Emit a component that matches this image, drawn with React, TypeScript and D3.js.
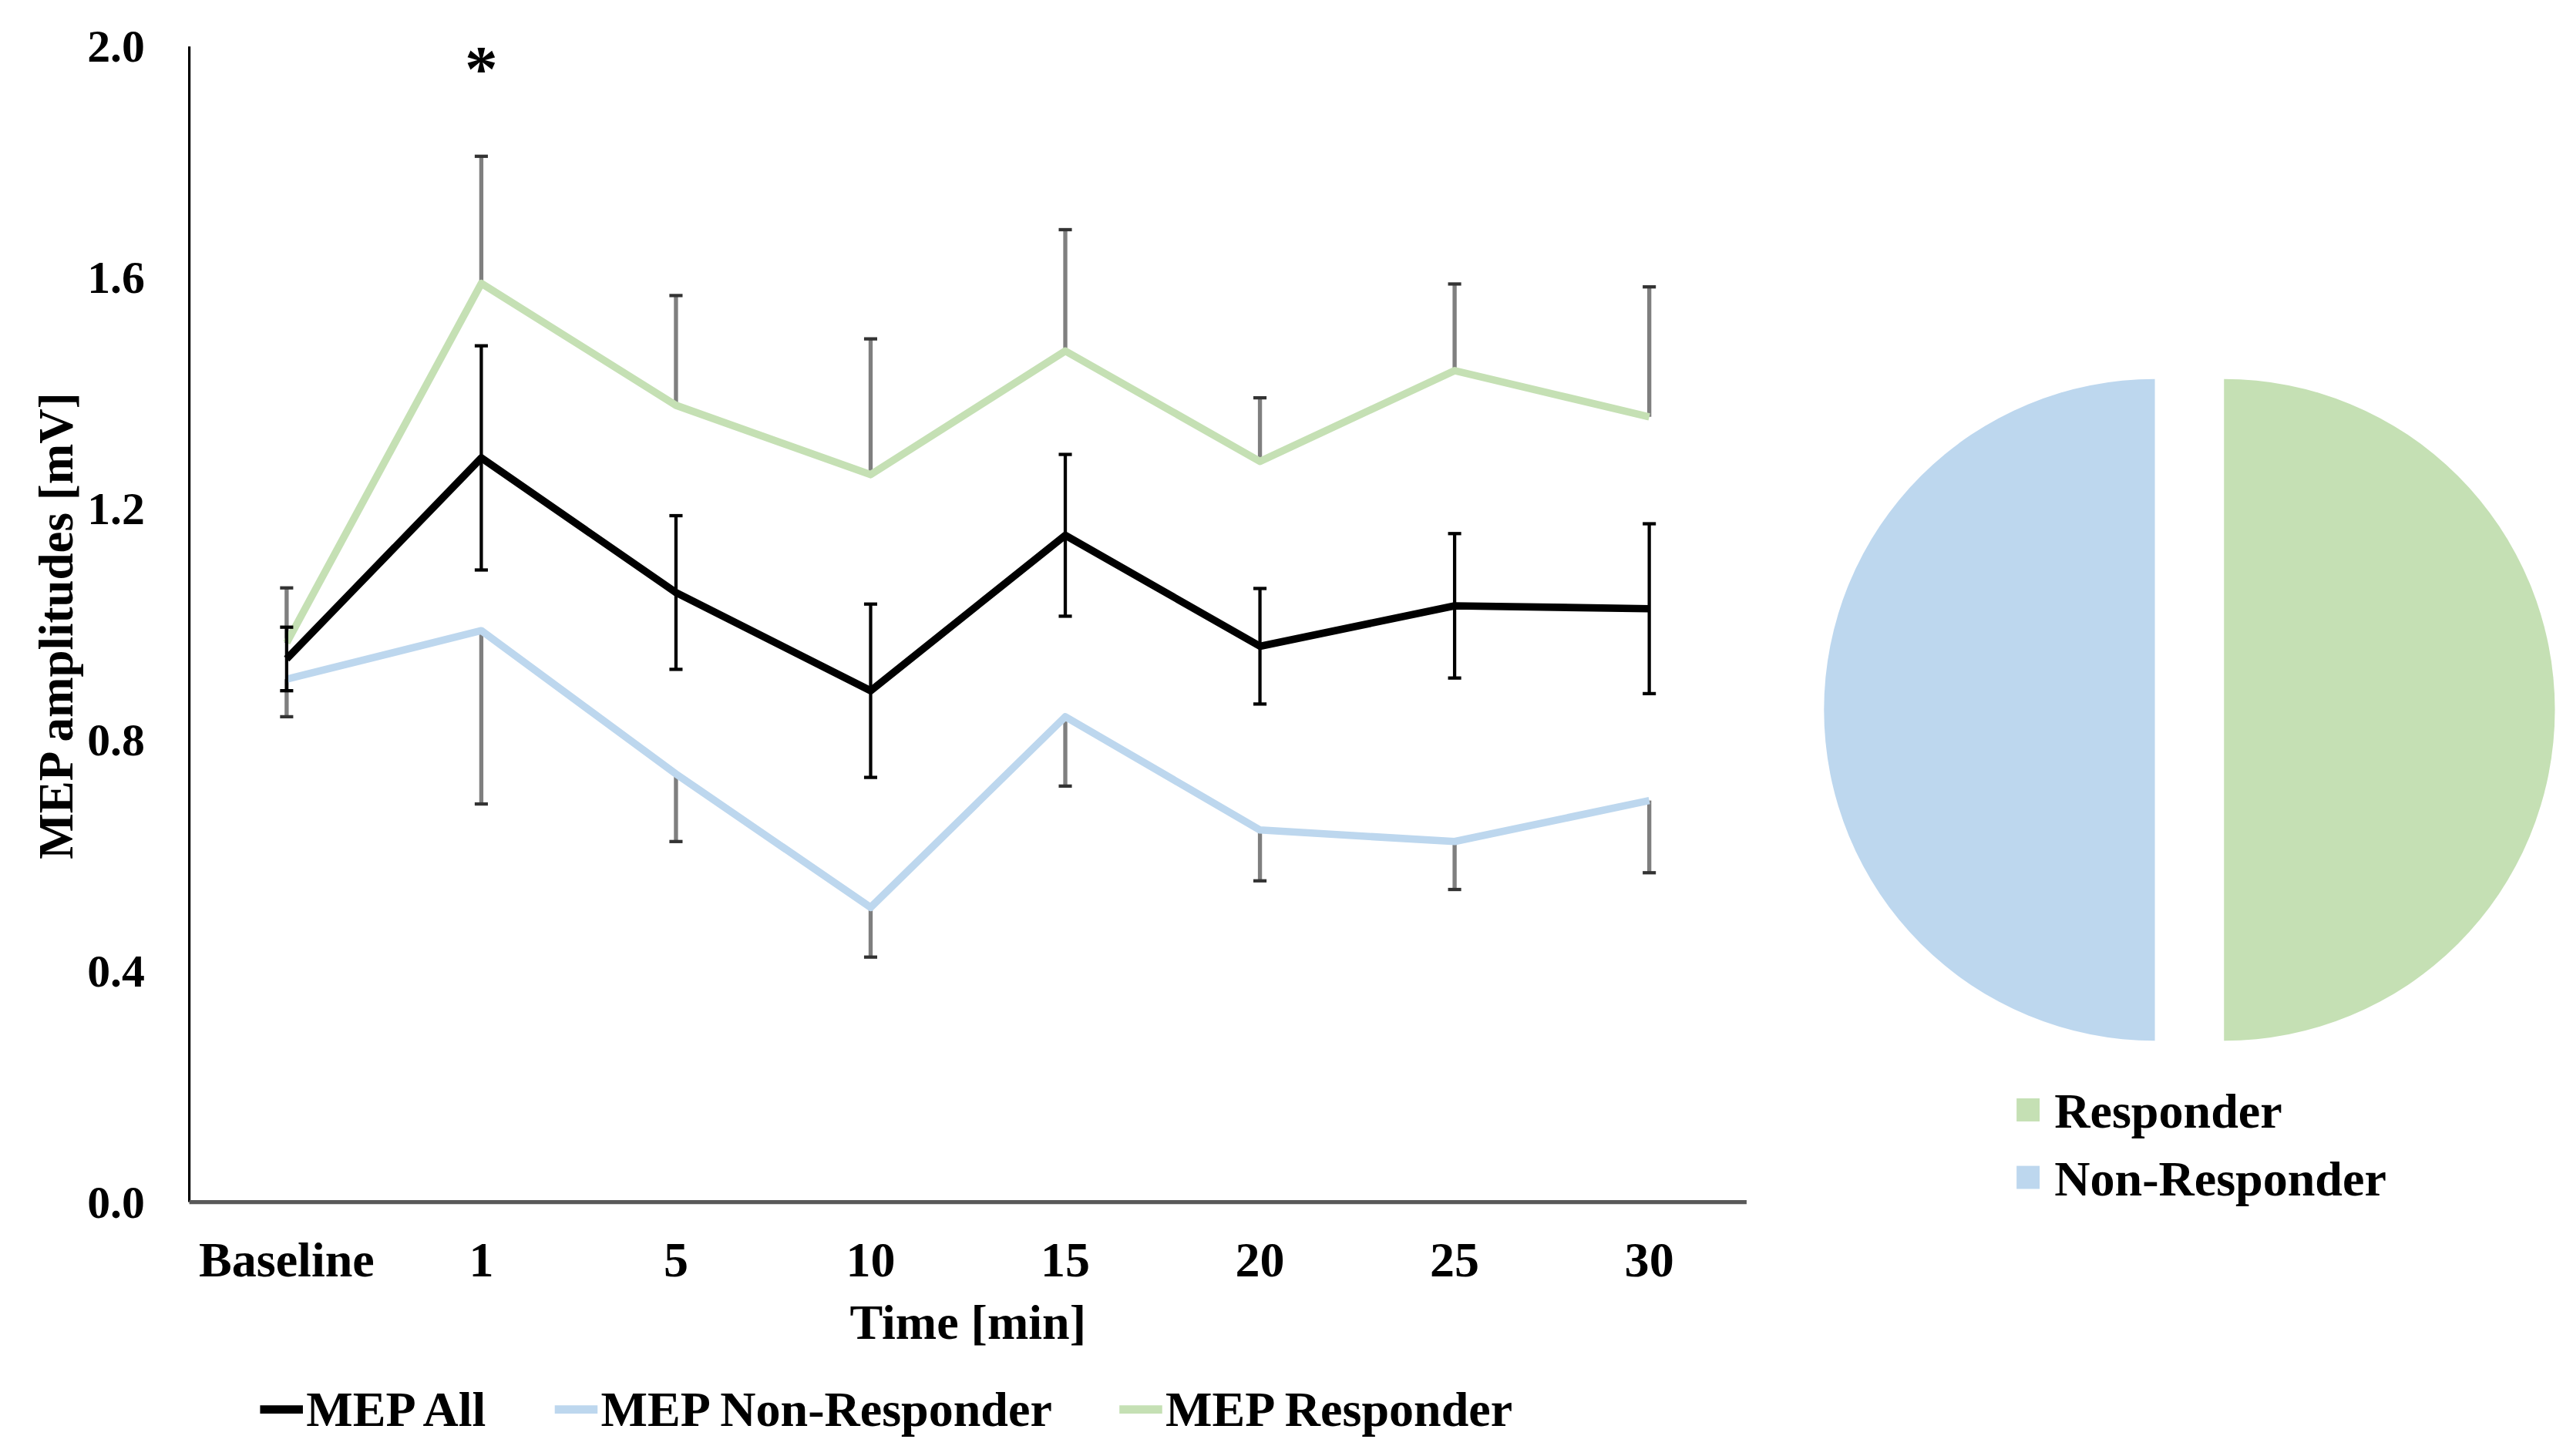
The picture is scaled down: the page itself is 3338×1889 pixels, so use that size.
import React from 'react';
import * as d3 from 'd3';

const categories = ['Baseline', '1', '5', '10', '15', '20', '25', '30'];
const allMean = [0.94, 1.288, 1.055, 0.885, 1.154, 0.962, 1.032, 1.027];
const allErr = [0.055, 0.194, 0.133, 0.15, 0.14, 0.1, 0.125, 0.147];
const responderMean = [0.968, 1.59, 1.379, 1.259, 1.473, 1.282, 1.439, 1.359];
const responderErr = [0.095, 0.22, 0.19, 0.235, 0.21, 0.11, 0.15, 0.225];
const nonResponderMean = [0.905, 0.989, 0.741, 0.51, 0.84, 0.644, 0.624, 0.695];
const nonResponderErr = [0.065, 0.3, 0.117, 0.086, 0.12, 0.088, 0.083, 0.125];
const yTicks = [0, 0.4, 0.8, 1.2, 1.6, 2.0];
const pieLabels = ['Responder', 'Non-Responder'];
const pieValues = [50, 50];

const GREEN = '#C5E0B4';
const BLUE = '#BDD7EE';
const GRAY = '#7f7f7f';
const FONT = '"Liberation Serif", "Times New Roman", serif';

const W = 1563;
const H = 884;

const App: React.FC = () => {
    const x = d3.scaleBand().domain(categories).range([115, 1061]).paddingInner(0).paddingOuter(0);
    const cx = (c: string) => (x(c) as number) + x.bandwidth() / 2;
    const y = d3.scaleLinear().domain([0, 2]).range([730, 28]);

    const line = d3.line<number>()
        .x((_, i) => cx(categories[i]))
        .y(d => y(d));

    const pie = d3.pie<number>().sort(null).startAngle(0).endAngle(2 * Math.PI);
    const arcs = pie(pieValues);
    const arc = d3.arc<d3.PieArcDatum<number>>().innerRadius(0).outerRadius(201);
    const pieCx = 1330;
    const pieCy = 431;
    const explode = 21;
    const pieColors = [GREEN, BLUE];

    const cap = 4;

    return (
        <svg
            width={3338}
            height={1889}
            viewBox={`0 0 ${W} ${H}`}
            style={{ position: 'absolute', left: 0, top: 0, background: '#fff' }}
            fontFamily={FONT}
            fontWeight="bold"
        >
            <rect x={0} y={0} width={W} height={H} fill="#fff" />

            {/* axes */}
            <line x1={115} x2={115} y1={y(2)} y2={y(0)} stroke="#000" strokeWidth={1.5} />
            <line x1={115} x2={1061} y1={y(0)} y2={y(0)} stroke="#595959" strokeWidth={2.5} />

            {yTicks.map(t => (
                <text key={t} x={88} y={y(t)} textAnchor="end" dominantBaseline="central" fontSize={28}>
                    {t.toFixed(1)}
                </text>
            ))}
            {categories.map(c => (
                <text key={c} x={cx(c)} y={775} textAnchor="middle" fontSize={30}>{c}</text>
            ))}
            <text x={588} y={813} textAnchor="middle" fontSize={30}>Time [min]</text>
            <text
                transform={`translate(44,380) rotate(-90)`}
                textAnchor="middle"
                fontSize={29.5}
            >
                MEP amplitudes [mV]
            </text>

            {/* responder errors (up only) */}
            {responderMean.map((m, i) => {
                const px = cx(categories[i]);
                return (
                    <g key={`re${i}`} stroke={GRAY} strokeWidth={2.5}>
                        <line x1={px} x2={px} y1={y(m)} y2={y(m + responderErr[i])} />
                        <line x1={px - cap} x2={px + cap} y1={y(m + responderErr[i])} y2={y(m + responderErr[i])} strokeWidth={2} stroke="#333" />
                    </g>
                );
            })}
            {/* non-responder errors (down only) */}
            {nonResponderMean.map((m, i) => {
                const px = cx(categories[i]);
                return (
                    <g key={`ne${i}`} stroke={GRAY} strokeWidth={2.5}>
                        <line x1={px} x2={px} y1={y(m)} y2={y(m - nonResponderErr[i])} />
                        <line x1={px - cap} x2={px + cap} y1={y(m - nonResponderErr[i])} y2={y(m - nonResponderErr[i])} strokeWidth={2} stroke="#333" />
                    </g>
                );
            })}

            <path d={line(responderMean) as string} fill="none" stroke={GREEN} strokeWidth={4.5} strokeLinejoin="round" />
            <path d={line(nonResponderMean) as string} fill="none" stroke={BLUE} strokeWidth={4.5} strokeLinejoin="round" />

            {/* all errors (both directions) */}
            {allMean.map((m, i) => {
                const px = cx(categories[i]);
                const top = y(m + allErr[i]);
                const bot = y(m - allErr[i]);
                return (
                    <g key={`ae${i}`} stroke="#000" strokeWidth={2}>
                        <line x1={px} x2={px} y1={top} y2={bot} />
                        <line x1={px - cap} x2={px + cap} y1={top} y2={top} />
                        <line x1={px - cap} x2={px + cap} y1={bot} y2={bot} />
                    </g>
                );
            })}
            <path d={line(allMean) as string} fill="none" stroke="#000" strokeWidth={4.5} strokeLinejoin="round" />

            <text x={cx('1')} y={55} textAnchor="middle" fontSize={40}>*</text>

            {/* legend */}
            {[
                { label: 'MEP All', color: '#000', x0: 158 },
                { label: 'MEP Non-Responder', color: BLUE, x0: 337 },
                { label: 'MEP Responder', color: GREEN, x0: 680 },
            ].map(l => (
                <g key={l.label}>
                    <line x1={l.x0} x2={l.x0 + 26} y1={856} y2={856} stroke={l.color} strokeWidth={5} />
                    <text x={l.x0 + 28} y={866} fontSize={30}>{l.label}</text>
                </g>
            ))}

            {/* pie */}
            {arcs.map((a, i) => {
                const [ccx, ccy] = arc.centroid(a);
                const len = Math.hypot(ccx, ccy) || 1;
                const dx = (ccx / len) * explode;
                const dy = (ccy / len) * explode;
                return (
                    <path
                        key={pieLabels[i]}
                        d={arc(a) as string}
                        transform={`translate(${pieCx + dx},${pieCy + dy})`}
                        fill={pieColors[i]}
                    />
                );
            })}
            {pieLabels.map((lab, i) => (
                <g key={lab}>
                    <rect x={1225} y={667 + i * 41} width={14} height={14} fill={pieColors[i]} />
                    <text x={1248} y={685 + i * 41} fontSize={30}>{lab}</text>
                </g>
            ))}
        </svg>
    );
};

export default App;
